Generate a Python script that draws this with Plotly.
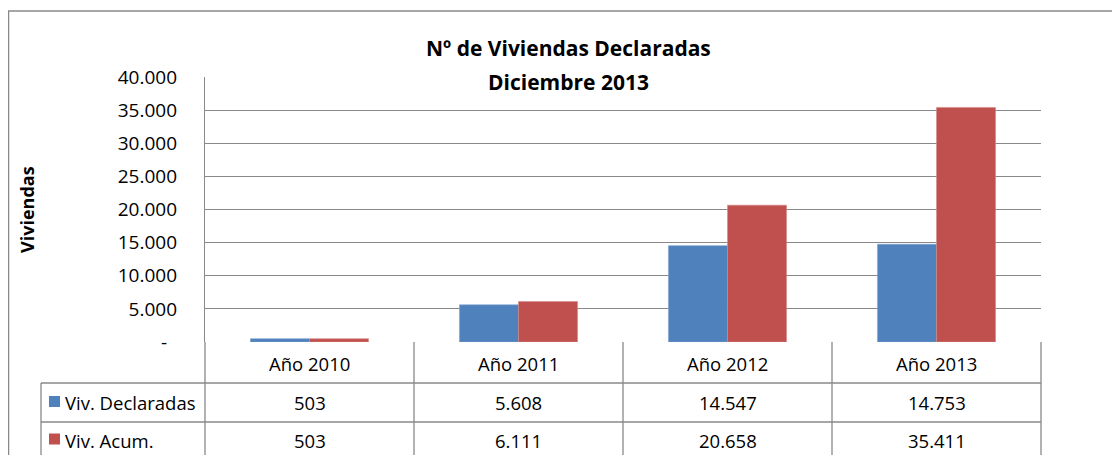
import plotly.graph_objects as go

# Data
years = ["Año 2010", "Año 2011", "Año 2012", "Año 2013"]
viv_declaradas = [503, 5608, 14547, 14753]
viv_acumuladas = [503, 6111, 20658, 35411]
series_names = ["Viv. Declaradas", "Viv. Acum."]
y_tickvals = [0, 5000, 10000, 15000, 20000, 25000, 30000, 35000, 40000]
y_ticktext = ["-\u00a0\u00a0", "5.000", "10.000", "15.000", "20.000",
              "25.000", "30.000", "35.000", "40.000"]

BLUE = "#4F81BD"
RED = "#C0504D"
GRID = "#898989"
FONT = "Open Sans"


def fmt(v):
    # Spanish thousands separator
    return f"{v:,}".replace(",", ".")


fig = go.Figure()

fig.add_trace(go.Bar(x=years, y=viv_declaradas, name=series_names[0],
                     marker_color=BLUE, marker_line=dict(color="#7FA3D0", width=0.6)))
fig.add_trace(go.Bar(x=years, y=viv_acumuladas, name=series_names[1],
                     marker_color=RED, marker_line=dict(color="#D48B89", width=0.6)))

# plot area spans 205..1041 px horizontally, 77..342 px vertically (page pixels;
# the page body adds an 8px margin around the figure)
PW, PH = 836.0, 265.0


def px_y(py):
    return (342 - py) / PH


def px_x(px):
    return (px - 205) / PW


shapes = []
line = dict(color=GRID, width=1.3)

# outer chart border (right/bottom fall outside the picture)
shapes.append(dict(type="rect", xref="paper", yref="paper",
                   x0=px_x(8.5), x1=px_x(1135), y0=px_y(470), y1=px_y(11),
                   line=dict(color=GRID, width=1.5), layer="below"))

# data table grid
bottom = px_y(470)
for yy in [383, 422]:
    shapes.append(dict(type="line", xref="paper", yref="paper",
                       x0=px_x(41), x1=1, y0=px_y(yy), y1=px_y(yy), line=line))
shapes.append(dict(type="line", xref="paper", yref="paper",
                   x0=px_x(41), x1=px_x(41), y0=px_y(383), y1=bottom, line=line))
for i in range(len(years) + 1):
    xx = i / len(years)
    shapes.append(dict(type="line", xref="paper", yref="paper",
                       x0=xx, x1=xx, y0=0, y1=bottom, line=line))

# legend keys inside the table
for key_y, color in [(401.5, BLUE), (439, RED)]:
    shapes.append(dict(type="rect", xref="paper", yref="paper",
                       x0=px_x(49), x1=px_x(60), y0=px_y(key_y + 5.5), y1=px_y(key_y - 5.5),
                       fillcolor=color, line=dict(width=0)))

annotations = []
txt = dict(family=FONT, size=18.5, color="black")

# header row + value rows
for cat, v1, v2 in zip(years, viv_declaradas, viv_acumuladas):
    annotations.append(dict(x=cat, xref="x", y=px_y(363), yref="paper", text=cat,
                            showarrow=False, font=txt, yanchor="middle"))
    annotations.append(dict(x=cat, xref="x", y=px_y(402), yref="paper", text=fmt(v1),
                            showarrow=False, font=txt, yanchor="middle"))
    annotations.append(dict(x=cat, xref="x", y=px_y(440), yref="paper", text=fmt(v2),
                            showarrow=False, font=txt, yanchor="middle"))

for name, ry in zip(series_names, [402, 440]):
    annotations.append(dict(x=px_x(63), xref="paper", y=px_y(ry), yref="paper", text=name,
                            showarrow=False, font=txt, xanchor="left", yanchor="middle"))

# title (two lines) and y axis title
title_font = dict(family=FONT, size=21, color="black")
annotations.append(dict(x=px_x(568), xref="paper", y=px_y(48), yref="paper",
                        text="<b>Nº de Viviendas Declaradas</b>", showarrow=False,
                        font=title_font, yanchor="middle"))
annotations.append(dict(x=px_x(568), xref="paper", y=px_y(82), yref="paper",
                        text="<b>Diciembre 2013</b>", showarrow=False,
                        font=title_font, yanchor="middle"))
annotations.append(dict(x=px_x(27), xref="paper", y=px_y(210), yref="paper",
                        text="<b>Viviendas</b>", textangle=-90, showarrow=False,
                        font=dict(family=FONT, size=18, color="black"),
                        yanchor="middle", xanchor="center"))

fig.update_layout(
    width=1112,
    height=447,
    margin=dict(l=197, r=79, t=69, b=113),
    barmode="group",
    bargap=0.435,
    bargroupgap=0,
    showlegend=False,
    plot_bgcolor="white",
    paper_bgcolor="white",
    font=dict(family=FONT, size=18.5, color="black"),
    shapes=shapes,
    annotations=annotations,
)
fig.update_xaxes(showticklabels=False, showgrid=False, zeroline=False, showline=False)
fig.update_yaxes(
    range=[0, 40000],
    tickvals=y_tickvals,
    ticktext=y_ticktext,
    showgrid=True,
    gridcolor=GRID,
    gridwidth=1.3,
    zeroline=False,
    showline=True,
    linecolor=GRID,
    linewidth=1.3,
    ticks="",
    ticklabelstandoff=23,
    tickfont=dict(family=FONT, size=19, color="black"),
)

fig.write_html("out.html")
